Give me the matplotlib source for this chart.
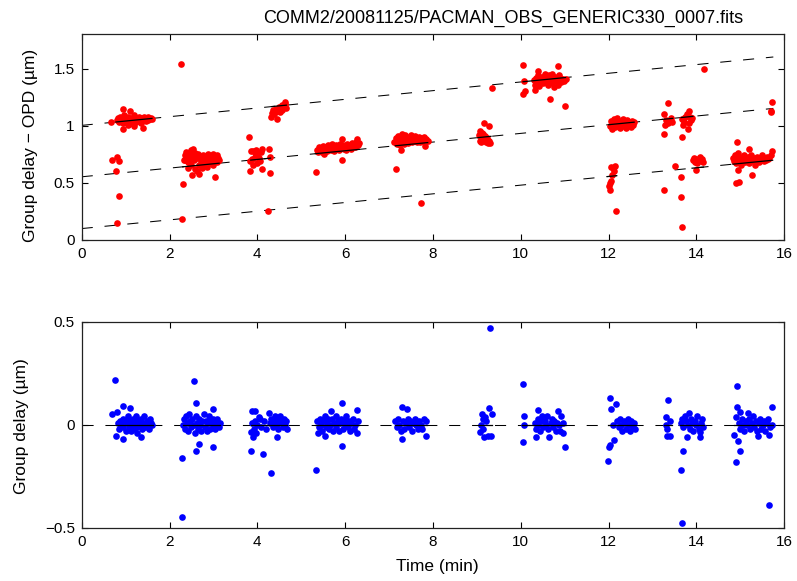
import matplotlib
matplotlib.use("Agg")
import matplotlib.pyplot as plt
import numpy as np

plt.rcParams['font.family'] = ['Liberation Sans', 'DejaVu Sans']
plt.rcParams['lines.scale_dashes'] = False

title = "COMM2/20081125/PACMAN_OBS_GENERIC330_0007.fits"

# ---- top panel: group delay - OPD (um) ----
top_t = [
    # cluster A
    0.67, 0.80, 0.82, 0.84, 0.86, 0.88, 0.90, 0.92, 0.94, 0.96, 0.98, 1.00, 1.02, 1.04, 1.06, 1.08, 1.10, 1.12, 1.14,
    1.16, 1.18, 1.20, 1.22, 1.24, 1.26, 1.28, 1.30, 1.32, 1.34, 1.36, 1.38, 1.40, 1.42, 1.44, 1.46, 1.48, 1.50, 1.52,
    1.55, 1.58, 1.61, 0.94, 1.11, 0.93, 1.39, 1.20, 1.05,
    0.70, 0.81, 0.85, 0.79, 0.85, 0.80,
    # cluster B
    2.26, 2.30, 2.28,
    2.33, 2.35, 2.36, 2.38, 2.40, 2.43, 2.42, 2.45, 2.47, 2.48, 2.50, 2.52, 2.51, 2.54, 2.55, 2.57, 2.58, 2.60, 2.62,
    2.63, 2.65, 2.66, 2.68, 2.70, 2.72, 2.74, 2.76, 2.78, 2.80, 2.82, 2.84, 2.86, 2.88, 2.90, 2.92, 2.94, 2.96, 2.98,
    3.00, 3.02, 3.03, 3.05, 3.07, 3.09, 3.11, 3.13,
    # cluster C
    3.81, 3.85, 3.90, 3.97, 4.10, 4.26, 4.29, 3.94, 3.83, 3.90, 4.00, 4.07, 3.83, 4.10, 4.28, 4.04, 3.96, 4.25, 4.02,
    4.08, 3.88,
    # cluster D
    4.62, 4.57, 4.35, 4.32, 4.45, 4.66, 4.46, 4.52, 4.40, 4.49, 4.55, 4.60, 4.38, 4.43, 4.63, 4.34,
    # cluster E
    5.33, 5.92, 5.51, 5.93, 6.27,
    5.35, 5.38, 5.40, 5.43, 5.46, 5.48, 5.50, 5.53, 5.56, 5.58, 5.60, 5.63, 5.65, 5.68, 5.70, 5.72, 5.75, 5.78, 5.80,
    5.82, 5.85, 5.88, 5.90, 5.95, 5.98, 6.00, 6.03, 6.05, 6.08, 6.10, 6.13, 6.15, 6.18, 6.20, 6.23, 6.25, 6.30, 6.32,
    # cluster F
    7.16, 7.73, 7.82, 7.28, 7.30,
    7.12, 7.15, 7.17, 7.20, 7.22, 7.24, 7.26, 7.28, 7.32, 7.34, 7.36, 7.38, 7.40, 7.43, 7.45, 7.48, 7.50, 7.52, 7.55,
    7.58, 7.60, 7.63, 7.65, 7.68, 7.70, 7.73, 7.76, 7.80, 7.84, 7.88,
    # cluster G
    9.16, 9.28, 9.35, 9.05, 9.08, 9.10, 9.12, 9.14, 9.06, 9.18, 9.20, 9.22, 9.25, 9.28, 9.30, 9.10, 9.15,
    # cluster H
    10.04, 10.08, 10.06, 10.10, 10.39, 10.85, 10.67, 11.00, 10.33,
    10.30, 10.32, 10.35, 10.37, 10.40, 10.42, 10.44, 10.46, 10.48, 10.50, 10.52, 10.54, 10.56, 10.58, 10.60, 10.62,
    10.64, 10.66, 10.68, 10.70, 10.72, 10.74, 10.76, 10.78, 10.80, 10.82, 10.84, 10.86, 10.88, 10.90, 10.92, 10.95,
    10.98, 11.02,
    # cluster I
    12.02, 12.05, 12.07, 12.10, 12.12, 12.15, 12.17, 12.20, 12.22, 12.25, 12.27, 12.30, 12.32, 12.35, 12.37, 12.40,
    12.42, 12.45, 12.48, 12.50, 12.53, 12.56, 12.58,
    12.05, 12.10, 12.15, 12.12, 12.08, 12.02, 12.00, 12.03, 12.06, 12.17,
    # cluster J
    13.35, 13.25, 13.30, 13.35, 13.40, 13.42, 13.28, 13.45, 13.25, 13.68, 13.72, 13.75, 13.78, 13.83, 13.85, 13.88,
    13.90, 13.70, 13.80, 13.82, 13.68,
    13.92, 13.95, 13.97, 14.00, 14.02, 14.05, 14.08, 14.10, 14.13, 14.15, 13.98,
    13.51, 13.65, 13.27, 13.64, 13.68, 14.16,
    # cluster K
    14.93, 15.19, 15.71, 14.89, 14.96, 15.27, 14.94, 15.73, 15.70, 15.69,
    14.83, 14.85, 14.87, 14.90, 14.92, 14.95, 14.97, 15.00, 15.02, 15.05, 15.08, 15.10, 15.12, 15.15, 15.18, 15.20,
    15.23, 15.25, 15.28, 15.30, 15.33, 15.35, 15.38, 15.40, 15.43, 15.45, 15.48, 15.50, 15.53, 15.55, 15.58, 15.60,
    15.63, 15.66, 15.70,
]
top_y = [
    # cluster A
    1.03, 1.05, 1.07, 1.03, 1.06, 1.08, 1.04, 1.06, 1.02, 1.09, 1.05, 1.07, 1.03, 1.06, 1.08, 1.04, 1.06, 1.02, 1.07,
    1.05, 1.09, 1.04, 1.06, 1.03, 1.07, 1.05, 1.08, 1.04, 1.06, 1.02, 1.07, 1.05, 1.08, 1.06, 1.04, 1.07, 1.05, 1.08,
    1.06, 1.07, 1.06, 1.146, 1.13, 0.97, 0.98, 1.00, 1.01,
    0.696, 0.725, 0.687, 0.605, 0.389, 0.146,
    # cluster B
    1.544, 0.488, 0.184,
    0.70, 0.74, 0.70, 0.77, 0.72, 0.63, 0.68, 0.76, 0.71, 0.66, 0.79, 0.74, 0.57, 0.80, 0.70, 0.62, 0.76, 0.73, 0.60,
    0.72, 0.75, 0.66, 0.58, 0.73, 0.69, 0.63, 0.74, 0.70, 0.66, 0.73, 0.69, 0.64, 0.75, 0.71, 0.67, 0.73, 0.69, 0.75,
    0.66, 0.72, 0.555, 0.70, 0.74, 0.68, 0.72, 0.70,
    # cluster C
    0.90, 0.775, 0.78, 0.79, 0.80, 0.80, 0.73, 0.73, 0.69, 0.66, 0.67, 0.69, 0.60, 0.62, 0.59, 0.72, 0.75, 0.25, 0.76,
    0.77, 0.71,
    # cluster D
    1.205, 1.18, 1.14, 1.08, 1.06, 1.155, 1.13, 1.12, 1.12, 1.16, 1.14, 1.17, 1.10, 1.15, 1.19, 1.11,
    # cluster E
    0.594, 0.70, 0.755, 0.883, 0.883,
    0.79, 0.77, 0.81, 0.78, 0.80, 0.77, 0.82, 0.79, 0.81, 0.78, 0.83, 0.80, 0.82, 0.79, 0.84, 0.81, 0.78, 0.83, 0.80,
    0.82, 0.79, 0.84, 0.81, 0.83, 0.80, 0.82, 0.79, 0.84, 0.81, 0.83, 0.80, 0.85, 0.82, 0.84, 0.81, 0.86, 0.83, 0.85,
    # cluster F
    0.62, 0.327, 0.82, 0.79, 0.93,
    0.86, 0.89, 0.84, 0.91, 0.87, 0.83, 0.90, 0.86, 0.88, 0.84, 0.92, 0.87, 0.89, 0.85, 0.90, 0.87, 0.92, 0.86, 0.89,
    0.87, 0.91, 0.86, 0.88, 0.90, 0.86, 0.89, 0.87, 0.90, 0.88, 0.87,
    # cluster G
    1.02, 1.00, 1.33, 0.92, 0.95, 0.90, 0.94, 0.88, 0.87, 0.91, 0.86, 0.89, 0.85, 0.87, 0.85, 0.86, 0.93,
    # cluster H
    1.535, 1.39, 1.28, 1.30, 1.48, 1.526, 1.23, 1.17, 1.31,
    1.40, 1.36, 1.42, 1.38, 1.44, 1.35, 1.41, 1.39, 1.43, 1.37, 1.41, 1.45, 1.38, 1.42, 1.40, 1.36,
    1.44, 1.39, 1.42, 1.37, 1.45, 1.40, 1.34, 1.43, 1.39, 1.41, 1.36, 1.44, 1.40, 1.42, 1.38, 1.41,
    1.39, 1.41,
    # cluster I
    1.00, 1.04, 0.97, 1.02, 1.06, 0.99, 1.03, 1.07, 1.01, 0.98, 1.04, 1.02, 1.06, 1.00, 1.03, 0.98,
    1.05, 1.01, 1.03, 0.99, 1.04, 1.01, 1.03,
    0.64, 0.63, 0.65, 0.60, 0.57, 0.50, 0.47, 0.44, 0.52, 0.255,
    # cluster J
    1.20, 1.10, 1.05, 1.02, 1.04, 1.07, 1.01, 1.03, 0.93, 1.06, 1.03, 1.08, 1.10, 1.125, 1.08, 1.05,
    1.07, 1.01, 0.97, 1.02, 0.90,
    0.70, 0.72, 0.68, 0.71, 0.67, 0.70, 0.73, 0.69, 0.71, 0.68, 0.61,
    0.65, 0.555, 0.44, 0.375, 0.11, 1.497,
    # cluster K
    0.86, 0.795, 0.78, 0.503, 0.51, 0.567, 0.61, 1.205, 1.13, 1.12,
    0.72, 0.69, 0.74, 0.67, 0.71, 0.76, 0.69, 0.73, 0.66, 0.71, 0.74, 0.68, 0.72, 0.70, 0.73, 0.67,
    0.71, 0.74, 0.69, 0.72, 0.66, 0.70, 0.73, 0.71, 0.68, 0.72, 0.70, 0.74, 0.69, 0.72, 0.70, 0.73,
    0.71, 0.72, 0.74,
]

# three fitted fringe lines (intercept, slope)
line_intercepts = [0.10, 0.553, 1.003]
line_slope = 0.038
line_t_end = 15.75

# solid segments per cluster: (t_start, t_end, line index)
seg_start = [0.78, 2.30, 3.85, 4.33, 5.32, 7.14, 9.02, 10.05, 12.00, 11.98, 13.22, 13.65, 13.90, 14.83]
seg_end   = [1.60, 3.13, 4.30, 4.66, 6.32, 7.88, 9.32, 11.02, 12.58, 12.18, 13.46, 13.92, 14.16, 15.72]
seg_line  = [2, 1, 1, 2, 1, 1, 1, 2, 1, 0, 1, 1, 0, 0]

# ---- bottom panel: residual group delay (um) ----
bot_t = [
    0.75, 0.94, 1.11, 0.81, 0.70, 0.79, 0.94, 1.34, 1.25,
    0.82, 0.85, 0.88, 0.90, 0.93, 0.95, 0.98, 1.00, 1.03, 1.05, 1.07, 1.10, 1.12, 1.14, 1.17, 1.19, 1.22, 1.24, 1.27,
    1.29, 1.32, 1.35, 1.37, 1.40, 1.43, 1.45, 1.48, 1.50, 1.53, 1.56, 1.58, 1.61,
    2.55, 2.61, 3.00, 2.28, 2.68, 2.61, 3.00, 2.28,
    2.31, 2.33, 2.35, 2.38, 2.40, 2.42, 2.45, 2.47, 2.50, 2.52, 2.55, 2.57, 2.60, 2.62, 2.65, 2.67, 2.70, 2.72, 2.75,
    2.78, 2.80, 2.83, 2.85, 2.88, 2.90, 2.93, 2.95, 2.98, 3.00, 3.03, 3.06, 3.09, 3.12, 3.14,
    3.85, 4.12, 4.30, 3.87, 3.95, 4.26, 4.03, 3.85, 3.90, 4.45,
    3.88, 3.92, 3.95, 3.98, 4.00, 4.05, 4.08, 4.15, 4.20, 4.28, 4.32, 4.35, 4.38, 4.40, 4.42, 4.45, 4.48, 4.50, 4.52,
    4.55, 4.58, 4.60, 4.63, 4.66, 4.68,
    5.33, 5.92, 5.92, 6.26, 5.68, 5.55, 5.38,
    5.36, 5.40, 5.42, 5.45, 5.48, 5.50, 5.53, 5.56, 5.58, 5.61, 5.63, 5.66, 5.70, 5.72, 5.75, 5.78, 5.80, 5.83, 5.86,
    5.88, 5.90, 5.95, 5.98, 6.00, 6.03, 6.06, 6.08, 6.11, 6.14, 6.17, 6.20, 6.23, 6.27, 6.30,
    7.30, 7.40, 7.29, 7.83, 7.85,
    7.14, 7.17, 7.20, 7.23, 7.26, 7.32, 7.35, 7.38, 7.42, 7.45, 7.48, 7.52, 7.55, 7.58, 7.62, 7.65, 7.68, 7.72, 7.76,
    7.80,
    9.29, 9.28, 9.35, 9.12, 9.18, 9.20, 9.10, 9.14, 9.06, 9.16, 9.33, 9.26, 9.13,
    10.04, 10.07, 10.08, 10.05, 10.39, 10.85, 10.92, 11.00, 10.35, 10.65,
    10.32, 10.35, 10.38, 10.40, 10.43, 10.46, 10.48, 10.51, 10.54, 10.57, 10.60, 10.62, 10.68, 10.70, 10.73, 10.76,
    10.79, 10.82, 10.88, 10.90, 10.95, 10.97,
    12.02, 12.16, 12.06, 11.99, 12.00, 12.04, 12.13, 12.10,
    12.20, 12.23, 12.26, 12.28, 12.31, 12.34, 12.37, 12.40, 12.43, 12.46, 12.49, 12.52, 12.55, 12.58, 12.61,
    13.35, 13.30, 13.40, 13.30, 13.32, 13.33, 13.40, 13.69, 13.64, 13.68,
    13.64, 13.67, 13.70, 13.73, 13.76, 13.79, 13.80, 13.82, 13.85, 13.87, 13.90, 13.93, 13.96, 13.99, 14.02, 14.05,
    14.08, 14.10, 14.12, 14.15, 14.07,
    14.93, 15.73, 14.93, 15.00, 15.18, 14.89, 14.85, 14.94, 15.00, 14.90, 15.65, 15.40, 15.65,
    14.97, 15.00, 15.03, 15.06, 15.09, 15.12, 15.15, 15.20, 15.23, 15.26, 15.29, 15.32, 15.35, 15.38, 15.42, 15.45,
    15.48, 15.51, 15.54, 15.57, 15.60, 15.63, 15.68, 15.72,
]
bot_y = [
    0.215, 0.092, 0.08, 0.063, 0.05, -0.053, -0.067, -0.06, -0.04,
    0.01, -0.02, 0.02, 0.00, 0.03, -0.01, 0.02, -0.03, 0.01, 0.04, -0.01, 0.02, -0.03, 0.00, 0.03, -0.02, 0.01, 0.04, -0.01,
    0.02, 0.00, 0.03, -0.02, 0.01, 0.04, -0.01, 0.02, 0.00, -0.02, 0.03, 0.01, 0.00,
    0.214, 0.107, 0.075, -0.163, -0.092, -0.126, -0.11, -0.45,
    0.00, 0.03, -0.02, 0.04, 0.01, -0.03, 0.05, 0.02, -0.01, 0.03, 0.00, -0.04, 0.04, 0.01, -0.02, 0.03, 0.00, -0.03, 0.02,
    0.05, -0.01, 0.02, -0.03, 0.01, 0.04, -0.02, 0.02, 0.00, 0.03, -0.02, 0.01, 0.03, -0.01, 0.01,
    -0.126, -0.144, -0.235, 0.066, 0.066, 0.058, 0.036, -0.034, -0.058, -0.058,
    0.01, -0.02, 0.02, -0.04, 0.00, 0.03, -0.01, 0.02, -0.02, 0.01, 0.03, -0.01, 0.02, 0.04, 0.00, 0.03, -0.02, 0.01, 0.04,
    0.02, -0.01, 0.03, 0.00, 0.02, -0.02,
    -0.218, 0.104, -0.103, 0.071, 0.068, -0.055, -0.04,
    0.02, -0.01, 0.03, 0.00, -0.03, 0.02, 0.04, -0.01, 0.01, 0.03, -0.02, 0.00, 0.03, -0.03, 0.01, 0.04, -0.01, 0.02, -0.03,
    0.01, 0.03, -0.02, 0.02, 0.00, 0.04, -0.01, 0.02, -0.03, 0.01, 0.03, -0.02, 0.00, -0.04, 0.02,
    0.084, 0.075, -0.071, -0.053, 0.02,
    0.02, -0.01, 0.03, 0.00, -0.03, 0.02, -0.02, 0.01, 0.03, -0.01, 0.02, -0.03, 0.01, 0.03, 0.00, -0.02, 0.02, 0.00, -0.02,
    0.03,
    0.471, 0.08, 0.052, 0.05, 0.039, 0.02, 0.00, -0.02, -0.034, -0.058, -0.055, -0.055, 0.03,
    0.196, 0.044, 0.00, -0.086, 0.071, 0.068, 0.04, -0.107, -0.061, -0.058,
    0.01, -0.02, 0.03, 0.00, -0.03, 0.02, 0.04, -0.01, 0.02, 0.00, 0.04, -0.02, 0.01, 0.03, -0.01, 0.02,
    -0.03, 0.01, 0.00, -0.03, 0.01, -0.04,
    0.128, 0.10, 0.075, -0.175, -0.11, -0.10, -0.074, 0.00,
    0.02, -0.01, 0.03, 0.00, -0.03, 0.02, 0.01, -0.02, 0.03, 0.00, -0.03, 0.02, -0.01, 0.01, -0.02,
    0.118, 0.039, 0.02, 0.00, -0.02, -0.053, -0.053, -0.126, -0.22, -0.479,
    0.01, 0.03, -0.01, 0.04, 0.02, -0.058, 0.00, 0.055, -0.02, 0.03, 0.01, -0.03, 0.02, 0.00, 0.04, -0.02,
    -0.037, 0.01, 0.03, -0.01, -0.058,
    0.188, 0.087, 0.087, 0.063, 0.055, 0.036, -0.05, -0.078, -0.128, -0.18, -0.39, -0.055, -0.05,
    0.01, -0.02, 0.03, 0.00, -0.03, 0.02, 0.00, 0.03, -0.02, 0.01, 0.04, -0.01, 0.02, -0.03, 0.01, 0.03,
    -0.02, 0.00, 0.02, -0.03, 0.01, 0.03, -0.01, 0.00,
]
bot_seg_start = [0.78, 2.30, 3.85, 5.32, 7.14, 9.02, 10.02, 11.98, 13.25, 13.62, 14.85]
bot_seg_end   = [1.62, 3.15, 4.68, 6.32, 7.86, 9.34, 11.02, 12.62, 13.45, 14.17, 15.75]

xticks = [0, 2, 4, 6, 8, 10, 12, 14, 16]
top_yticks = [0, 0.5, 1, 1.5]
top_yticklabels = ["0", "0.5", "1", "1.5"]
bot_yticks = [-0.5, 0, 0.5]
bot_yticklabels = ["\u22120.5", "0", "0.5"]

W, H = 797, 581
fig = plt.figure(figsize=(W / 100, H / 100), dpi=100)
ax1 = fig.add_axes([81.7 / W, 1 - 240.0 / H, (784.3 - 81.7) / W, (240.0 - 34.3) / H])
ax2 = fig.add_axes([81.7 / W, 1 - 527.7 / H, (784.3 - 81.7) / W, (527.7 - 321.7) / H])

dash = (0, (8.0, 8.5))
ms = 4.8

# top panel
tl = np.array([0.0, line_t_end])
for b in line_intercepts:
    ax1.plot(tl, b + line_slope * tl, color='black', lw=0.75, linestyle=dash, zorder=1)
ax1.plot(top_t, top_y, 'o', color=(1, 0, 0), ms=ms, mew=0, zorder=2)
for s, e, k in zip(seg_start, seg_end, seg_line):
    ts = np.array([s, e])
    ax1.plot(ts, line_intercepts[k] + line_slope * ts, color='black', lw=0.9, zorder=3)

# bottom panel
ax2.plot([0, 16], [0, 0], color='black', lw=0.75, linestyle=dash, zorder=1)
ax2.plot(bot_t, bot_y, 'o', color=(0, 0, 1), ms=ms, mew=0, zorder=2)
for s, e in zip(bot_seg_start, bot_seg_end):
    ax2.plot([s, e], [0, 0], color='black', lw=0.9, zorder=3)

for ax in (ax1, ax2):
    ax.set_xlim(0, 16)
    ax.set_xticks(xticks)
    ax.set_xticklabels([str(v) for v in xticks])
    ax.tick_params(direction='in', top=True, right=True, length=4, width=0.8,
                   labelsize=11, colors='black', pad=5)
    for sp in ax.spines.values():
        sp.set_linewidth(0.9)
        sp.set_color('#222222')

ax1.set_ylim(0, 1.8)
ax1.set_yticks(top_yticks)
ax1.set_yticklabels(top_yticklabels)

ax2.set_ylim(-0.5, 0.5)
ax2.set_yticks(bot_yticks)
ax2.set_yticklabels(bot_yticklabels)

# texts placed at the reference pixel positions
def fx(px):
    return px / W

def fy(py):
    return 1 - py / H

fig.text(fx(503), fy(18), title, fontsize=13, ha='center', va='center')
fig.text(fx(31), fy(145), "Group delay \u2212 OPD (\u00b5m)", fontsize=12.5,
         rotation=90, ha='center', va='center')
fig.text(fx(22), fy(426), "Group delay (\u00b5m)", fontsize=12.5,
         rotation=90, ha='center', va='center')
fig.text(fx(437), fy(567), "Time (min)", fontsize=12.5, ha='center', va='center')

fig.savefig("out.png", dpi=100)
